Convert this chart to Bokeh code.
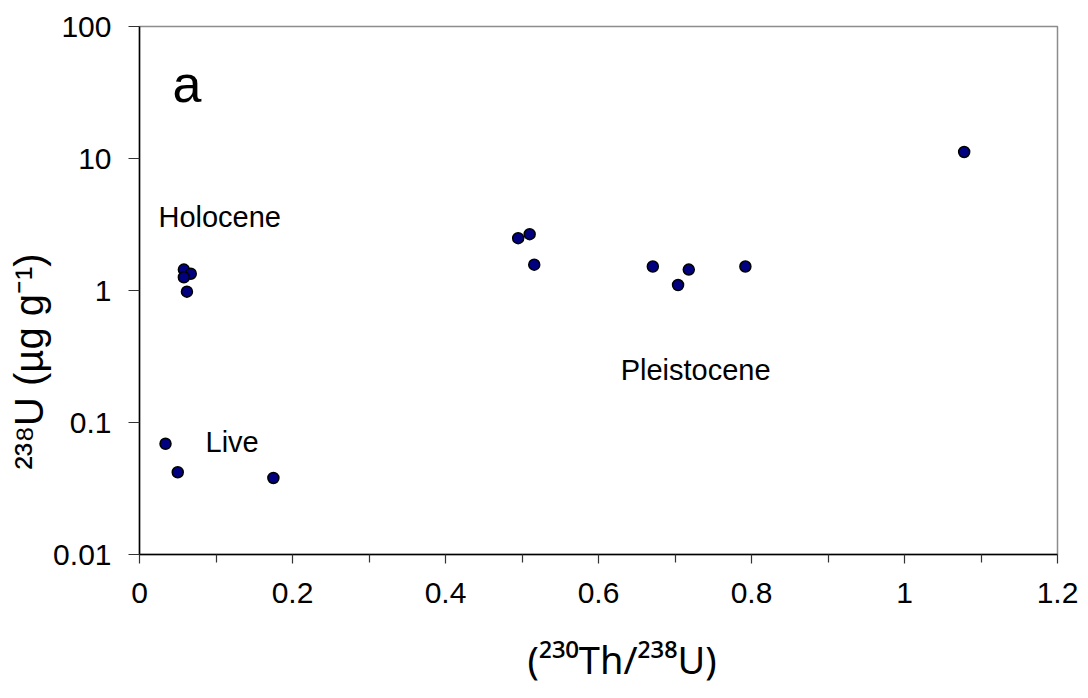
from bokeh.plotting import figure
from bokeh.models import Range1d, FixedTicker, CustomJSTickFormatter, Label, Title
from bokeh.embed import file_html
from bokeh.resources import INLINE

# ---- data ----
th230_u238 = [0.058, 0.067, 0.058, 0.062, 0.034, 0.050, 0.175,
              0.495, 0.510, 0.516, 0.671, 0.718, 0.704, 0.792, 1.078]
u238_ppm = [1.44, 1.34, 1.26, 0.98, 0.069, 0.042, 0.038,
            2.49, 2.67, 1.57, 1.52, 1.44, 1.10, 1.52, 11.2]
x_ticks = [0, 0.2, 0.4, 0.6, 0.8, 1.0, 1.2]
x_minor_ticks = [0.1, 0.3, 0.5, 0.7, 0.9, 1.1]
y_ticks = [0.01, 0.1, 1, 10, 100]
group_names = ["Holocene", "Live", "Pleistocene"]
panel_letter = "a"
x_title = "(²³⁰Th/²³⁸U)"
y_title = "²³⁸U (µg g⁻¹)"

FONT = "Liberation Sans"

p = figure(width=1088, height=698, output_backend="svg", toolbar_location=None,
           y_axis_type="log", x_range=Range1d(0, 1.2), y_range=Range1d(0.01, 100),
           min_border_left=139, min_border_right=31, min_border_top=26, min_border_bottom=144)
p.background_fill_color = "white"
p.border_fill_color = "white"
p.outline_line_color = "#8c8c8c"
p.outline_line_width = 1.5
p.grid.visible = False

fmt = CustomJSTickFormatter(code="return String(Number(tick.toPrecision(6)));")

xa = p.xaxis[0]
xa.ticker = FixedTicker(ticks=x_ticks, minor_ticks=x_minor_ticks)
xa.formatter = fmt
xa.major_tick_out = 9
xa.major_tick_in = 0
xa.minor_tick_out = 8
xa.minor_tick_in = 0
xa.major_label_standoff = 19

ya = p.yaxis[0]
ya.ticker = FixedTicker(ticks=y_ticks, minor_ticks=[])
ya.formatter = fmt
ya.major_tick_out = 11
ya.major_tick_in = 0
ya.minor_tick_out = 0
ya.minor_tick_in = 0
ya.major_label_standoff = 17

for ax in (xa, ya):
    ax.axis_line_color = "black"
    ax.axis_line_width = 1.5
    ax.major_tick_line_color = "#333333"
    ax.minor_tick_line_color = "#333333"
    ax.major_tick_line_width = 1.2
    ax.minor_tick_line_width = 1.2
    ax.major_label_text_font = FONT
    ax.major_label_text_font_size = "30px"
    ax.major_label_text_color = "black"

p.scatter(th230_u238, u238_ppm, size=11, fill_color="#000080",
          line_color="black", line_width=1.5)

# ---- in-plot annotations (data coordinates) ----
p.add_layout(Label(x=0.043, y=36.4, text=panel_letter, text_font=FONT,
                   text_font_size="52px", text_baseline="alphabetic", text_color="black"))
for name, (lx, ly) in zip(group_names, [(0.0248, 3.58), (0.0863, 0.0709), (0.629, 0.252)]):
    p.add_layout(Label(x=lx, y=ly, text=name, text_font=FONT, text_font_size="29px",
                       text_baseline="alphabetic", text_color="black"))

# ---- axis titles ----
# thin spacer between the tick labels and the x title
p.add_layout(Title(text="\u00a0", standoff=22, text_font=FONT, text_font_size="1px",
                   text_font_style="normal"), "below")
p.add_layout(Title(text=x_title, align="left", offset=388, standoff=0,
                   text_font="Noto Sans", text_font_size="38px", text_font_style="normal",
                   text_color="black"), "below")
p.add_layout(Title(text=y_title, align="left", offset=85, standoff=0,
                   text_font=FONT, text_font_size="40px", text_font_style="normal",
                   text_color="black"), "left")

open("out.html", "w").write(file_html(p, INLINE))
